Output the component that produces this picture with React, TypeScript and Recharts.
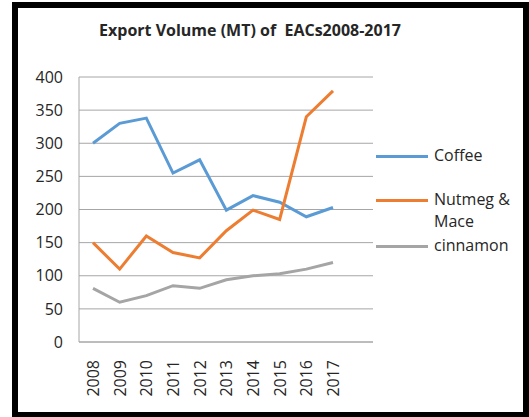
import { LineChart, Line, XAxis, YAxis, CartesianGrid } from 'recharts';

const years = ['2008', '2009', '2010', '2011', '2012', '2013', '2014', '2015', '2016', '2017'];
const coffee = [300, 330, 338, 255, 275, 199, 221, 211, 189, 203];
const nutmegMace = [150, 110, 160, 135, 127, 168, 199, 185, 340, 379];
const cinnamon = [81, 60, 70, 85, 81, 94, 100, 103, 110, 120];
const yTicks = [0, 50, 100, 150, 200, 250, 300, 350, 400];

const series = [
  { key: 'coffee', name: 'Coffee', color: '#5B9BD5', lines: ['Coffee'] },
  { key: 'nutmeg', name: 'Nutmeg & Mace', color: '#ED7D31', lines: ['Nutmeg &', 'Mace'] },
  { key: 'cinnamon', name: 'cinnamon', color: '#A5A5A5', lines: ['cinnamon'] },
];

const data = years.map((year, i) => ({
  year,
  coffee: coffee[i],
  nutmeg: nutmegMace[i],
  cinnamon: cinnamon[i],
}));

const FONT = '"Open Sans", "Noto Sans", sans-serif';

function YearTick(props: any) {
  const { x, y, payload } = props;
  return (
    <text
      x={x}
      y={y}
      transform={`rotate(-90, ${x}, ${y})`}
      textAnchor="end"
      dominantBaseline="central"
      fontSize={16}
      fontFamily={FONT}
      fill="#262626"
    >
      {payload.value}
    </text>
  );
}

// legend sits right of the plot, like the excel original
function SideLegend() {
  const rows = [0, 44, 90];
  return (
    <div style={{ position: 'absolute', left: 376, top: 144, width: 150, height: 120, fontFamily: FONT, fontSize: 16, color: '#262626' }}>
      {series.map((s, i) => (
        <div key={s.key} style={{ position: 'absolute', top: rows[i], left: 0, display: 'flex', alignItems: 'flex-start' }}>
          <div style={{ width: 52, height: 3, background: s.color, marginTop: 11, marginRight: 6 }} />
          <div style={{ lineHeight: '22px' }}>
            {s.lines.map((l) => (
              <div key={l}>{l}</div>
            ))}
          </div>
        </div>
      ))}
    </div>
  );
}

export default function App() {
  return (
    <div style={{ position: 'absolute', left: 0, top: 0, width: 529, height: 417, background: '#fff', overflow: 'hidden' }}>
      <div
        style={{
          position: 'absolute',
          left: 12,
          top: 2,
          width: 517,
          height: 415,
          boxSizing: 'border-box',
          borderLeft: '6px solid #000',
          borderTop: '6px solid #000',
          borderRight: '6px solid #000',
          borderBottom: '5px solid #000',
        }}
      />
      <div
        style={{
          position: 'absolute',
          left: 0,
          width: 500,
          top: 19,
          textAlign: 'center',
          fontFamily: FONT,
          fontWeight: 700,
          fontSize: 16,
          color: '#262626',
          whiteSpace: 'pre',
        }}
      >
        {'Export Volume (MT) of  EACs2008-2017'}
      </div>
      <div style={{ position: 'absolute', left: 0, top: 0 }}>
        <LineChart width={529} height={417} data={data} margin={{ top: 77, right: 156, left: 0, bottom: 0 }}>
          <CartesianGrid vertical={false} stroke="#A6A6A6" strokeWidth={1} />
          <XAxis
            dataKey="year"
            height={75}
            padding={{ left: 14, right: 40 }}
            tickLine={false}
            stroke="#A6A6A6"
            tick={<YearTick />}
            tickMargin={12}
            interval={0}
          />
          <YAxis
            width={79}
            domain={[0, 400]}
            ticks={yTicks}
            interval={0}
            tickLine={false}
            tickSize={0}
            tickMargin={16}
            stroke="#A6A6A6"
            tick={{ fontSize: 16, fontFamily: FONT, fill: '#262626' }}
          />
          {series.map((s) => (
            <Line
              key={s.key}
              dataKey={s.key}
              name={s.name}
              stroke={s.color}
              strokeWidth={3}
              dot={false}
              isAnimationActive={false}
            />
          ))}
        </LineChart>
      </div>
      <SideLegend />
    </div>
  );
}
